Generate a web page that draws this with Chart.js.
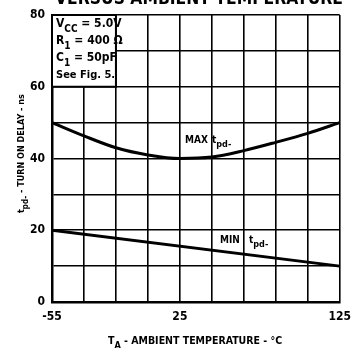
<!DOCTYPE html>
<html>
<head>
<meta charset="utf-8">
<script src="https://cdn.jsdelivr.net/npm/chart.js@4/dist/chart.umd.min.js"></script>
<style>
  html, body { margin: 0; padding: 0; background: #fff; }
  #wrap { width: 359px; height: 350px; }
</style>
</head>
<body>
<div id="wrap"><canvas id="myChart" width="359" height="350"></canvas></div>
<script>
// temperature points (deg C) and delay values (ns)
var temps = [-55, -35, -15, 5, 25, 45, 65, 85, 105, 125];
var maxDelay = [50, 46.3, 43, 41, 40, 40.4, 42.2, 44.5, 47, 50];
var minTemps = [-55, 125];
var minDelay = [20, 10];
var xTickLabels = [-55, 25, 125];
var yTickLabels = [0, 20, 40, 60, 80];

var FONT = "'Liberation Sans Narrow', 'DejaVu Sans Condensed', Arial, sans-serif";

function toPoints(xs, ys) {
  var out = [];
  for (var i = 0; i < xs.length; i++) {
    out.push({ x: xs[i], y: ys[i] });
  }
  return out;
}

// text with a subscript part, left aligned at x
function subText(ctx, x, y, main, sub, rest, size, weight) {
  var w = weight || 'bold';
  ctx.font = w + " " + size + "px " + FONT;
  ctx.fillText(main, x, y);
  x += ctx.measureText(main).width;
  ctx.font = w + " " + Math.round(size * 0.85) + "px " + FONT;
  ctx.fillText(sub, x, y + size * 0.4);
  x += ctx.measureText(sub).width;
  ctx.font = w + " " + size + "px " + FONT;
  if (rest) ctx.fillText(rest, x, y);
  return x + (rest ? ctx.measureText(rest).width : 0);
}

var labelsPlugin = {
  id: 'labelsPlugin',
  afterDraw: function(chart) {
    var ctx = chart.ctx;
    var xs = chart.scales.x, ys = chart.scales.y;
    ctx.save();
    ctx.fillStyle = '#000';
    ctx.textBaseline = 'alphabetic';
    ctx.textAlign = 'left';

    // heading, running off the top edge
    ctx.font = "bold 18px " + FONT;
    ctx.fillText("VERSUS AMBIENT TEMPERATURE", 55, 4, 288);

    // conditions box in the top-left cell group
    var bx0 = xs.getPixelForValue(-55), bx1 = xs.getPixelForValue(-15);
    var by0 = ys.getPixelForValue(80), by1 = ys.getPixelForValue(60);
    ctx.fillStyle = '#fff';
    ctx.fillRect(bx0, by0, bx1 - bx0, by1 - by0);
    ctx.strokeStyle = '#000';
    ctx.lineWidth = 2;
    ctx.strokeRect(bx0, by0, bx1 - bx0, by1 - by0);
    ctx.fillStyle = '#000';
    subText(ctx, 56, 27, "V", "CC", " = 5.0V", 12, 'bold');
    subText(ctx, 56, 44, "R", "1", " = 400 \u03A9", 12, 'bold');
    subText(ctx, 56, 61, "C", "1", " = 50pF", 12, 'bold');
    ctx.font = "bold 11px " + FONT;
    ctx.fillText("See Fig. 5.", 56, 78);

    // curve labels
    ctx.font = "bold 10px " + FONT;
    ctx.fillText("MAX", 185, 143);
    subText(ctx, 212, 143, "t", "pd-", "", 10, 'bold');
    ctx.font = "bold 10px " + FONT;
    ctx.fillText("MIN", 220, 243);
    subText(ctx, 249, 243, "t", "pd-", "", 10, 'bold');

    // x axis title
    subText(ctx, 108, 344, "T", "A", " - AMBIENT TEMPERATURE - \u00B0C", 10.5, 'bold');

    // y axis title, rotated
    ctx.save();
    ctx.translate(24, 213);
    ctx.rotate(-Math.PI / 2);
    subText(ctx, 0, 0, "t", "pd-", " - TURN ON DELAY - ns", 9, 'bold');
    ctx.restore();

    ctx.restore();
  }
};

function getChart() {
  var ctx = document.getElementById('myChart').getContext('2d');
  var chart = new Chart(ctx, {
    type: 'line',
    data: {
      datasets: [{
        label: 'MAX tpd-',
        data: toPoints(temps, maxDelay),
        borderColor: '#000',
        borderWidth: 3,
        pointRadius: 0,
        cubicInterpolationMode: 'monotone',
        fill: false
      }, {
        label: 'MIN tpd-',
        data: toPoints(minTemps, minDelay),
        borderColor: '#000',
        borderWidth: 3,
        pointRadius: 0,
        fill: false
      }]
    },
    options: {
      responsive: false,
      animation: false,
      layout: { padding: { top: 15, right: 18, left: 0, bottom: 0 } },
      plugins: {
        legend: { display: false },
        tooltip: { enabled: false }
      },
      scales: {
        x: {
          type: 'linear',
          min: -55,
          max: 125,
          afterBuildTicks: function(scale) {
            var t = [];
            for (var v = -55; v <= 125; v += 20) t.push({ value: v });
            scale.ticks = t;
          },
          afterFit: function(scale) { scale.height = 48; },
          grid: { color: '#000', lineWidth: 1.6, drawTicks: false },
          border: { color: '#000', width: 2.5 },
          ticks: {
            autoSkip: false,
            maxRotation: 0,
            padding: 8,
            color: '#000',
            font: { family: FONT, size: 12, weight: 'bold' },
            callback: function(v) {
              return xTickLabels.indexOf(v) >= 0 ? String(v) : '';
            }
          }
        },
        y: {
          min: 0,
          max: 80,
          afterBuildTicks: function(scale) {
            var t = [];
            for (var v = 0; v <= 80; v += 10) t.push({ value: v });
            scale.ticks = t;
          },
          afterFit: function(scale) { scale.width = 52; },
          grid: { color: '#000', lineWidth: 1.6, drawTicks: false },
          border: { color: '#000', width: 2.5 },
          ticks: {
            autoSkip: false,
            padding: 7,
            color: '#000',
            font: { family: FONT, size: 12, weight: 'bold' },
            callback: function(v) {
              return yTickLabels.indexOf(v) >= 0 ? String(v) : '';
            }
          }
        }
      }
    },
    plugins: [labelsPlugin]
  });
}

getChart();
</script>
</body>
</html>
